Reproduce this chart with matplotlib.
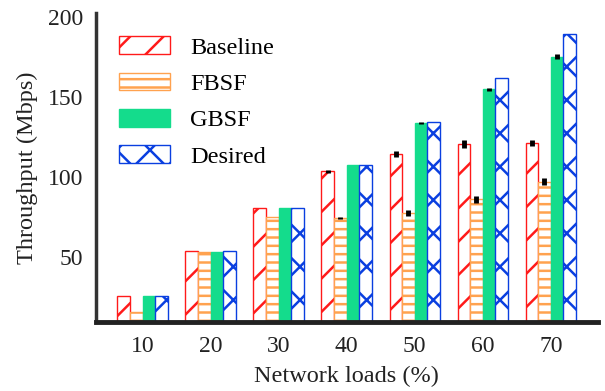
import numpy as np
import matplotlib
matplotlib.use("Agg")
import matplotlib.pyplot as plt

red = "#FF1A1A"
orange = "#FFA24F"
green = "#14DC8C"
blue = "#0A3FE0"

loads = ["10", "20", "30", "40", "50", "60", "70"]
labels = ["Baseline", "FBSF", "GBSF", "Desired"]
baseline = [26, 53.5, 80.5, 103.5, 114.5, 120.5, 121]
fbsf = [16, 53, 75, 74.5, 77.5, 86, 97]
gbsf = [26, 53, 80.5, 107.5, 133.5, 154.5, 175]
desired = [26, 53.5, 80.5, 107.5, 134.5, 161.5, 189]
baseline_err = [0, 0, 0, 0.8, 1.8, 2.2, 2.0]
fbsf_err = [0, 0, 0, 0.6, 1.8, 2.2, 2.0]
gbsf_err = [0, 0, 0, 0, 0.5, 1.0, 1.8]

plt.rcParams["font.family"] = ["Liberation Serif", "DejaVu Serif"]
plt.rcParams["hatch.linewidth"] = 1.8

fig = plt.figure(figsize=(6.05, 3.91), dpi=100)
ax = fig.add_axes([0.158, 0.176, 0.83, 0.79])

x = np.arange(len(loads))
width = 0.185
styles = [
    (baseline, baseline_err, "white", red, "/"),
    (fbsf, fbsf_err, "white", orange, "--"),
    (gbsf, gbsf_err, green, green, None),
    (desired, None, "white", blue, "x"),
]
for i, (vals, err, fc, ec, hatch) in enumerate(styles):
    pos = x + (i - 1.5) * width
    ax.bar(pos, vals, width=width, color=fc, edgecolor=ec, hatch=hatch,
           linewidth=1.0, label=labels[i], zorder=2)
    if err is not None:
        ax.errorbar(pos, vals, yerr=err, fmt="none", ecolor="black",
                    elinewidth=3.5, capsize=0, zorder=3)

ax.set_xlim(-0.69, 6.69)
ax.set_ylim(9.4, 202)
ax.set_xticks(x)
ax.set_xticklabels(loads)
ax.set_yticks([50, 100, 150, 200])
ax.tick_params(length=0, labelsize=17, colors="#222222")
ax.tick_params(axis="x", pad=10)
ax.tick_params(axis="y", pad=9)
ax.set_xlabel("Network loads (%)", fontsize=17.5, color="#222222", labelpad=6)
ax.set_ylabel("Throughput (Mbps)", fontsize=17.5, color="#222222", labelpad=7)

for s in ["top", "right"]:
    ax.spines[s].set_visible(False)
ax.spines["left"].set_linewidth(2.5)
ax.spines["bottom"].set_linewidth(3.5)
ax.spines["left"].set_color("#333333")
ax.spines["bottom"].set_color("#222222")

ax.legend(fontsize=17.5, frameon=False, loc="upper left",
          handlelength=2.1, handleheight=0.73,
          labelspacing=0.58, handletextpad=0.85, borderaxespad=0.55)

plt.savefig("out.png", dpi=100)
